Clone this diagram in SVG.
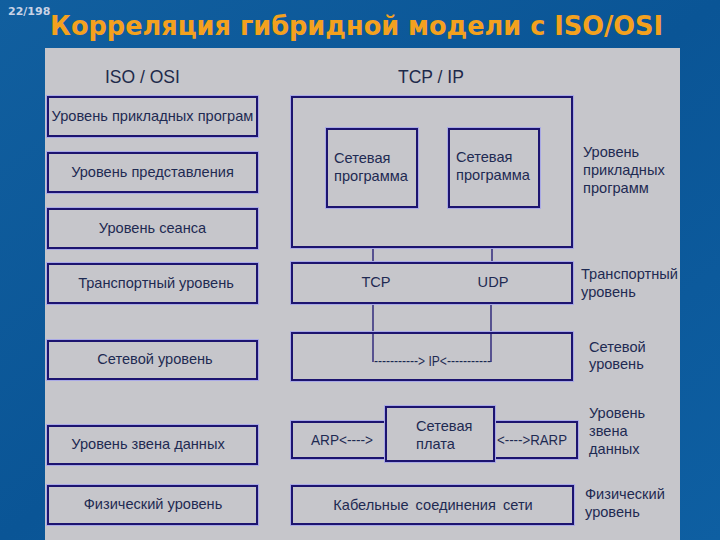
<svg xmlns="http://www.w3.org/2000/svg" width="720" height="540" viewBox="0 0 720 540">
<defs>
<linearGradient id="bg" x1="0" y1="0" x2="1" y2="1">
<stop offset="0" stop-color="#115f9f"/>
<stop offset="0.5" stop-color="#0a5596"/>
<stop offset="1" stop-color="#0e5fa2"/>
</linearGradient>
</defs>
<style>
.box{fill:#c6c6cb;stroke:#1c1470;stroke-width:2}
.halo{fill:none;stroke:#a9a9e6;stroke-width:4}
.t{font-family:"Liberation Sans",Arial,sans-serif;font-size:14.6px;fill:#1e2a52}
.c{text-anchor:middle}
.h{font-family:"Liberation Sans",Arial,sans-serif;font-size:17.5px;fill:#1e2a4a}
.ln{stroke:#1c1470;stroke-width:1.3;fill:none}
</style>
<rect x="0" y="0" width="720" height="540" fill="url(#bg)"/>
<text x="8" y="15" font-family="'DejaVu Sans',sans-serif" font-weight="bold" font-size="11" fill="#c9d3e6">22/198</text>
<text x="50" y="35" font-family="'DejaVu Sans',sans-serif" font-weight="bold" font-size="26" fill="#f4a11e" textLength="613" lengthAdjust="spacingAndGlyphs">Корреляция гибридной модели с ISO/OSI</text>
<rect x="45" y="48" width="635" height="492" fill="#c6c6cb"/>
<text class="h" x="105" y="83">ISO / OSI</text>
<text class="h" x="398" y="83">TCP / IP</text>

<g id="connectors">
<line class="ln" x1="373" y1="247" x2="373" y2="263"/>
<line class="ln" x1="492" y1="247" x2="492" y2="263"/>
<polyline class="ln" points="373,303 373,362 374,362"/>
<polyline class="ln" points="491,303 491,362 490,362"/>
</g>

<g id="iso-app"><rect class="halo" x="48" y="97" width="209" height="39"/><rect class="box" x="48" y="97" width="209" height="39"/><text class="t c" x="152.5" y="121">Уровень прикладных програм</text></g>
<g id="iso-pres"><rect class="halo" x="48" y="153" width="209" height="39"/><rect class="box" x="48" y="153" width="209" height="39"/><text class="t c" x="152.5" y="177">Уровень представления</text></g>
<g id="iso-sess"><rect class="halo" x="48" y="209" width="209" height="39"/><rect class="box" x="48" y="209" width="209" height="39"/><text class="t c" x="152.5" y="233">Уровень сеанса</text></g>
<g id="iso-trans"><rect class="halo" x="48" y="264" width="209" height="39"/><rect class="box" x="48" y="264" width="209" height="39"/><text class="t c" x="156" y="288">Транспортный уровень</text></g>
<g id="iso-net"><rect class="halo" x="48" y="341" width="209" height="38"/><rect class="box" x="48" y="341" width="209" height="38"/><text class="t c" x="155" y="364">Сетевой уровень</text></g>
<g id="iso-link"><rect class="halo" x="48" y="426" width="209" height="38"/><rect class="box" x="48" y="426" width="209" height="38"/><text class="t c" x="148" y="449">Уровень звена данных</text></g>
<g id="iso-phys"><rect class="halo" x="48" y="486" width="209" height="38"/><rect class="box" x="48" y="486" width="209" height="38"/><text class="t c" x="153" y="509">Физический уровень</text></g>

<g id="tcp-app"><rect class="halo" x="292" y="97" width="280" height="150"/><rect class="box" x="292" y="97" width="280" height="150"/></g>
<g id="prog1"><rect class="halo" x="327" y="129" width="90" height="78"/><rect class="box" x="327" y="129" width="90" height="78"/><text class="t" x="334" y="163">Сетевая</text><text class="t" x="334" y="181">программа</text></g>
<g id="prog2"><rect class="halo" x="449" y="129" width="90" height="78"/><rect class="box" x="449" y="129" width="90" height="78"/><text class="t" x="456" y="162">Сетевая</text><text class="t" x="456" y="180">программа</text></g>
<g id="tcp-trans"><rect class="halo" x="292" y="263" width="280" height="40"/><rect class="box" x="292" y="263" width="280" height="40"/><text class="t c" x="376" y="287">TCP</text><text class="t c" x="493" y="287">UDP</text></g>
<g id="tcp-net"><rect class="halo" x="292" y="333" width="280" height="47"/><rect class="box" x="292" y="333" width="280" height="47"/>
<line class="ln" x1="373" y1="333" x2="373" y2="362"/><line class="ln" x1="491" y1="333" x2="491" y2="362"/>
<text class="t" x="374" y="366" font-size="12" textLength="117" lengthAdjust="spacingAndGlyphs">-----------&gt; IP&lt;-----------</text></g>
<g id="tcp-link"><rect class="halo" x="292" y="422" width="285" height="36"/><rect class="box" x="292" y="422" width="285" height="36"/><text class="t" x="311" y="445" textLength="62" lengthAdjust="spacingAndGlyphs">ARP&lt;----&gt;</text><text class="t" x="497" y="445" textLength="70" lengthAdjust="spacingAndGlyphs">&lt;----&gt;RARP</text></g>
<g id="nic"><rect class="halo" x="386" y="407" width="108" height="54"/><rect class="box" x="386" y="407" width="108" height="54"/><text class="t" x="416" y="431">Сетевая</text><text class="t" x="416" y="449">плата</text></g>
<g id="tcp-phys"><rect class="halo" x="292" y="486" width="281" height="38"/><rect class="box" x="292" y="486" width="281" height="38"/><text class="t c" x="433" y="510" word-spacing="3">Кабельные соединения сети</text></g>

<g id="labels">
<text class="t" x="583" y="157">Уровень</text><text class="t" x="583" y="175">прикладных</text><text class="t" x="583" y="193">программ</text>
<text class="t" x="581" y="279">Транспортный</text><text class="t" x="581" y="297">уровень</text>
<text class="t" x="589" y="352">Сетевой</text><text class="t" x="589" y="369">уровень</text>
<text class="t" x="589" y="418">Уровень</text><text class="t" x="589" y="436">звена</text><text class="t" x="589" y="454">данных</text>
<text class="t" x="585" y="499">Физический</text><text class="t" x="585" y="517">уровень</text>
</g>
</svg>
